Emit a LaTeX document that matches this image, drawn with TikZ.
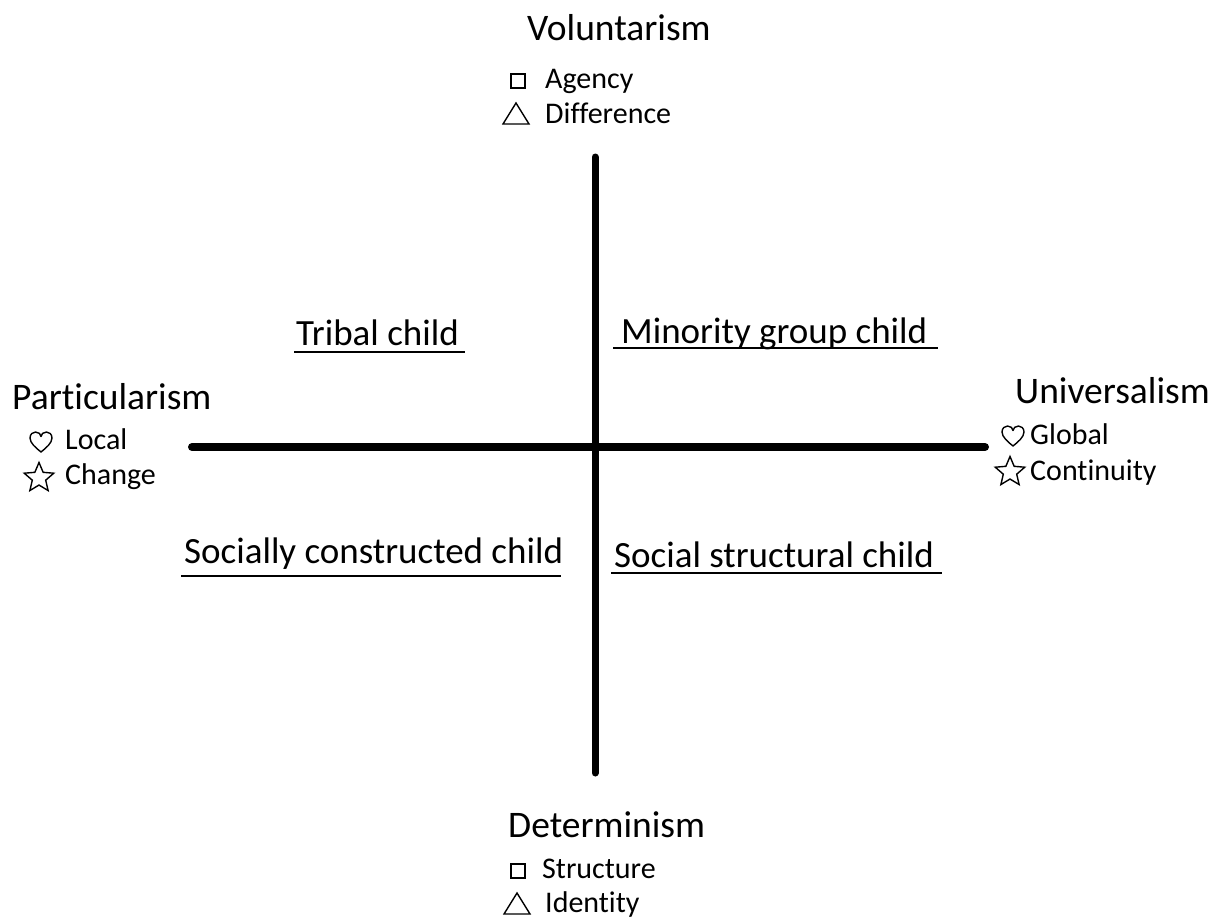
\documentclass[tikz,border=0pt]{standalone}
\usepackage{fontspec}
\setmainfont{Carlito}[Ligatures=CommonOff]
\usetikzlibrary{shapes.geometric}
\begin{document}
\begin{tikzpicture}[x=1pt,y=-1pt,
  heading/.style={anchor=base west,inner sep=0pt,font=\fontsize{37.5}{42}\selectfont},
  item/.style={anchor=base west,inner sep=0pt,font=\fontsize{30}{34}\selectfont},
  quad/.style={anchor=base west,inner sep=0pt,font=\fontsize{37}{42}\selectfont},
  axis/.style={line width=8pt,line cap=round},
  uline/.style={line width=1.5pt},
  sym/.style={draw,line width=1.4pt,inner sep=0pt},
  sqsym/.style={sym,rectangle,minimum size=14pt},
  starsym/.style={sym,star,star points=5,star point ratio=2.2,minimum size=31pt},
  heart/.pic={\draw[line width=1.4pt,line join=round] (0,10) .. controls (-5,6) and (-11,1) .. (-11,-4) .. controls (-11,-8) and (-8,-10) .. (-5.5,-10) .. controls (-2.5,-10) and (0,-8) .. (0,-5.5) .. controls (0,-8) and (2.5,-10) .. (5.5,-10) .. controls (8,-10) and (11,-8) .. (11,-4) .. controls (11,1) and (5,6) .. (0,10) -- cycle;},
  tri/.pic={\draw[line width=1.4pt,line join=miter] (-13,10) -- (13,10) -- (0,-11) -- cycle;}
]
\useasboundingbox (0,0) rectangle (1212,921);
\fill[white] (0,0) rectangle (1212,921);

% axes
\coordinate (axL) at (192,447);
\coordinate (axR) at (985,447);
\coordinate (axT) at (595,157);
\coordinate (axB) at (595,773);
\draw[axis] (axL) -- (axR);
\draw[axis,line width=7pt] (axT) -- (axB);

% headings
\node[heading] (vol) at (527,40) {Voluntarism};
\node[heading] (par) at (12,409) {Particularism};
\node[heading] (uni) at (1015,403) {Universalism};
\node[heading] (det) at (508,837) {Determinism};

% top items
\node[sqsym] (sq1) at (518,81) {};
\node[item] (agency) at (545,88) {Agency};
\pic (tri1) at (516,114) {tri};
\node[item] (diff) at (545,123) {Difference};

% left items
\pic (hrt1) at (41,442) {heart};
\node[item] (local) at (65,449) {Local};
\node[starsym] (st1) at (39,478) {};
\node[item] (change) at (65,484) {Change};

% right items
\pic (hrt2) at (1013,436) {heart};
\node[item] (global) at (1030,444) {Global};
\node[starsym] (st2) at (1010,472) {};
\node[item] (cont) at (1030,480) {Continuity};

% bottom items
\node[sqsym] (sq2) at (518,871) {};
\node[item] (struct) at (542,878) {Structure};
\pic (tri2) at (517,904) {tri};
\node[item] (ident) at (545,912) {Identity};

% quadrant labels
\node[quad] (tribal) at (296,345) {Tribal child};
\node[quad] (minor) at (621,343) {Minority group child};
\node[quad] (socc) at (184,563) {Socially constructed child};
\node[quad] (socs) at (614,567) {Social structural child};
\draw[uline] (294,352) -- (465,352);
\draw[uline] (613,348) -- (938,348);
\draw[uline] (181,576) -- (561,576);
\draw[uline] (611,573) -- (942,573);
\end{tikzpicture}
\end{document}
